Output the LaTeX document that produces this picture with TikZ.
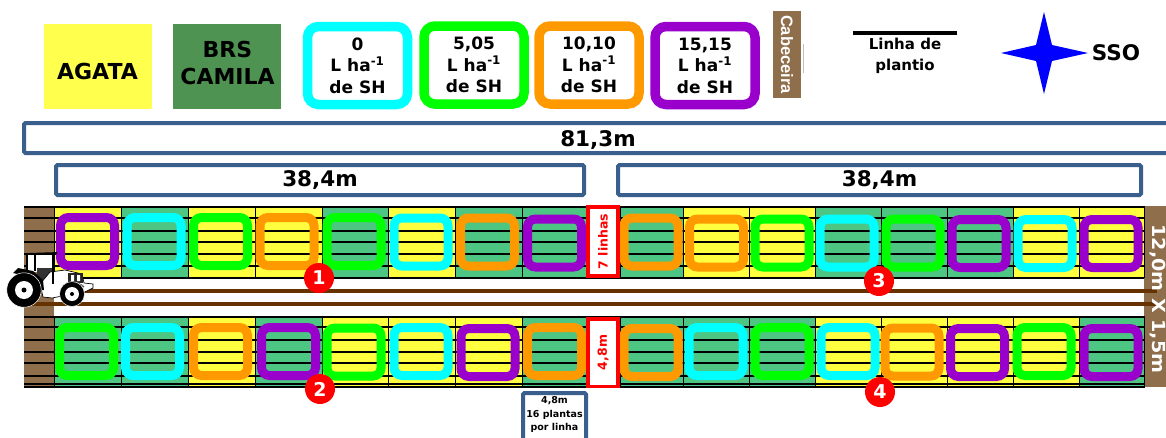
\documentclass[tikz,border=0pt]{standalone}
\usepackage{fontspec}
\setmainfont{DejaVu Sans}
\newfontfamily\cabfont{Liberation Sans}
\usepackage{xcolor}
\usetikzlibrary{arrows.meta,positioning,calc}

\definecolor{ccy}{HTML}{00FFFF}
\definecolor{cgr}{HTML}{00FF00}
\definecolor{cor}{HTML}{FF9900}
\definecolor{cpu}{HTML}{9900CC}
\definecolor{py}{HTML}{FFFF40}
\definecolor{pg}{HTML}{4DC683}
\definecolor{legy}{HTML}{FFFF4D}
\definecolor{legg}{HTML}{4F9353}
\definecolor{soil}{HTML}{8F6E4B}
\definecolor{track}{HTML}{663300}
\definecolor{steel}{HTML}{3B5F8D}

\begin{document}
\begin{tikzpicture}[
    x=1pt, y=-1pt,
    legendbox/.style={minimum width=108pt, minimum height=85pt, inner sep=0pt},
    legendtext/.style={align=center, inner sep=0pt, font=\fontsize{22}{27}\selectfont\bfseries},
    legendring/.style={draw, line width=9.5pt, rounded corners=11pt, minimum width=100pt,
                       minimum height=78pt, align=center, inner sep=0pt,
                       font=\fontsize{17}{21.5}\selectfont\bfseries},
    measure/.style={draw=steel, line width=4pt, rounded corners=1.5pt, anchor=north west, inner sep=0pt,
                    font=\fontsize{21.5}{25}\selectfont\bfseries},
    headland/.style={fill=soil, anchor=north west, inner sep=0pt},
    plotcell/.style={draw=black, line width=0.8pt, anchor=west, inner sep=0pt, minimum height=71pt},
    ring/.style={draw, line width=9pt, rounded corners=8pt, minimum width=54pt,
                 minimum height=48pt, inner sep=0pt},
    gapbox/.style={draw=red, fill=white, line width=3.5pt, minimum width=30pt, inner sep=0pt},
    gaptext/.style={rotate=90, text=red, font=\fontsize{12.5}{15}\selectfont\bfseries, inner sep=0pt},
    plantline/.style={draw=black, line width=1.5pt},
    trackline/.style={draw=track, line width=3.5pt},
    tag/.style={circle, fill=red, minimum size=30pt, inner sep=0pt, text=white,
                font=\fontsize{19}{22}\selectfont\bfseries},
    wheel/.style={circle, fill=black, draw=white, line width=0.5pt, inner sep=0pt},
    hub/.style={circle, fill=white, inner sep=0pt},
    axle/.style={circle, fill=black, inner sep=0pt}
]
    \clip (0,0) rectangle (1166,437);
    \fill[white] (0,0) rectangle (1166,437);

    % legenda
    \node[legendbox, fill=legy] (agata) at (98,66.5) {};
    \node[legendtext] (agatatext) at (97.5,71) {AGATA};
    \node[legendbox, fill=legg, right=21pt of agata] (camila) {};
    \node[legendtext] (camilatext) at (227.5,62.5) {BRS\\CAMILA};
    \node[legendring, draw=ccy] (leg0) at (357.5,65.5) {0\\L ha\textsuperscript{-1}\\de SH};
    \node[legendring, draw=cgr] (leg5) at (474,65) {5,05\\L ha\textsuperscript{-1}\\de SH};
    \node[legendring, draw=cor] (leg10) at (589,65) {10,10\\L ha\textsuperscript{-1}\\de SH};
    \node[legendring, draw=cpu] (leg15) at (705,65.5) {15,15\\L ha\textsuperscript{-1}\\de SH};
    \node[fill=soil, minimum width=28pt, minimum height=87pt, inner sep=0pt] (cab) at (787,54.5) {};
    \node[rotate=-90, text=white, font=\fontsize{16.5}{20}\cabfont\bfseries] (cabtext) at (cab.center) {Cabeceira};
    \draw[gray!50, line width=0.8pt] ($(cab.east)+(2.5,-11)$) coordinate (tick1) -- ++(0,29);
    \coordinate (lp1) at (853,33);
    \coordinate (lp2) at (957,33);
    \draw[black, line width=4pt] (lp1) -- (lp2);
    \node[align=center, inner sep=0pt, font=\fontsize{15}{21.5}\selectfont\bfseries] (lptext) at (905,56) {Linha de\\plantio};
    \fill[blue] (1001,53) -- (1036,45) -- (1044,12) -- (1052,45) -- (1088,53)
                -- (1052,61) -- (1044,94) -- (1036,61) -- cycle;
    \node[font=\fontsize{21.5}{24}\selectfont\bfseries, inner sep=0pt] (sso) at (1116,53) {SSO};

    % medidas
    \node[measure, minimum width=1180pt, minimum height=30pt] (total) at (22,121) {};
    \node[font=\fontsize{21.5}{25}\selectfont\bfseries, inner sep=0pt] (totaltext) at (598,140) {81,3m};
    \node[measure, minimum width=528pt, minimum height=30pt] (halfL) at (54,163) {38,4m};
    \node[measure, minimum width=523pt, minimum height=30pt] (halfR) at (616,163) {38,4m};

    % bordaduras
    \node[headland, minimum width=30pt, minimum height=181pt] (headL) at (24,206) {};
    \node[headland, minimum width=23pt, minimum height=181pt] (headR) at (1143.5,206) {};

    % parcelas
    \foreach \n/\xa/\xb/\fc in {1/54/121/py,2/121/188/pg,3/188/255/py,4/255/322/py,5/322/388/pg,6/388/455/py,7/455/522/pg,8/522/586/pg,
                                9/620/683/pg,10/683/749/py,11/749/815/py,12/815/881/pg,13/881/947/pg,14/947/1013/pg,15/1013/1079/py,16/1079/1143.5/py}
        \node[plotcell, fill=\fc, minimum width={(\xb-\xa)*1pt}] (t\n) at (\xa,242) {};
    \foreach \n/\xa/\xb/\fc in {1/54/121/pg,2/121/188/pg,3/188/255/py,4/255/322/pg,5/322/388/py,6/388/455/py,7/455/522/py,8/522/586/pg,
                                9/620/683/pg,10/683/749/pg,11/749/815/pg,12/815/881/py,13/881/947/py,14/947/1013/py,15/1013/1079/py,16/1079/1143.5/pg}
        \node[plotcell, fill=\fc, minimum width={(\xb-\xa)*1pt}] (b\n) at (\xa,351.5) {};

    % linhas de plantio
    \foreach \y in {218,231,242,254,266}
        \draw[plantline] (headL.west |- 0,\y) -- (headR.west |- 0,\y);
    \foreach \y in {327,340,352,363,376,384}
        \draw[plantline] (headL.west |- 0,\y) -- (headR.west |- 0,\y);
    \foreach \y in {206.5,278,316.5,387}
        \draw[black, line width=2pt] (headL.west |- 0,\y) -- (headR.west |- 0,\y);

    % carreadores
    \coordinate (trackA) at (headL.east |- 0,291);
    \coordinate (trackB) at (headL.west |- 0,304);
    \draw[trackline] (trackA) -- ++(1103,0);
    \draw[trackline] (trackB) -- ++(1133,0);

    % doses
    \foreach \n/\rx/\ry/\rc in {1/87.5/241.5/cpu,2/154/241.5/ccy,3/220.5/241.5/cgr,4/287/241.5/cor,5/354/241.5/cgr,6/421/242/ccy,7/487.5/242/cor,8/554.5/243/cpu,
                                9/651/242/cor,10/716.5/243/cor,11/782/243/cgr,12/847/243/ccy,13/913/243/cgr,14/979/243.5/cpu,15/1045/243.5/ccy,16/1111/243.5/cpu}
        \node[ring, draw=\rc] (rt\n) at (\rx,\ry) {};
    \foreach \n/\rx/\ry/\rc in {1/86.5/351.5/cgr,2/152.5/351.5/ccy,3/220.5/351.5/cor,4/288.5/351.5/cpu,5/354/352/cgr,6/421/351.5/ccy,7/488/352.5/cpu,8/554.5/351.5/cor,
                                9/651/352.5/cor,10/716/351.5/ccy,11/782/351.5/cgr,12/848/351.5/ccy,13/912/352/cor,14/977.5/352.5/cpu,15/1044/351.5/cgr,16/1111/352.5/cpu}
        \node[ring, draw=\rc] (rb\n) at (\rx,\ry) {};

    \node[gapbox, minimum height=69pt] (gapT) at (603,241.5) {};
    \node[gaptext] (gapTtext) at (gapT) {7 linhas};
    \node[gapbox, minimum height=67.5pt] (gapB) at (603,352.5) {};
    \node[gaptext] (gapBtext) at (gapB) {4,8m};

    \node[rotate=-90, xscale=1.06, anchor=base, text=white, font=\fontsize{18}{22}\selectfont\bfseries, inner sep=0pt] (size) at (1152.5,299) {12,0m X 1,5m};

    \node[tag] (n1) at (319,278) {1};
    \node[tag] (n2) at (320,389) {2};
    \node[tag] (n3) at (879,281) {3};
    \node[tag] (n4) at (880,392) {4};

    % parcela util
    \node[measure, fill=white, minimum width=63pt, minimum height=60pt] (util) at (521,391) {};
    \node[align=center, inner sep=0pt, font=\fontsize{9.5}{13.5}\selectfont\bfseries, anchor=north] (utiltext) at (554.5,396.5) {4,8m\\16 plantas\\por linha};

    % trator
    \fill[white] (27,255) rectangle (54,272);
    \fill[black!80] (37,268) rectangle (52,283);
    \fill[white, draw=black, line width=0.7pt] (50,272) -- (65,270) -- (82,274) -- (84,283) -- (93,284) -- (93,288) -- (85,292)
        -- (62,296) -- (52,298) -- (43,297) -- (40,284) -- cycle;
    \fill[black!85] (68,273) rectangle (83,283);
    \fill[white] (71,275) rectangle (74,281) (77,275) rectangle (80,281);
    \draw[black, line width=1.8pt] (26,254) -- (57,253);
    \draw[black, line width=1.2pt] (27,254) -- (27,270) (35,254) -- (35,271) (53,253) -- (53,284);
    \fill[black] (13,273) -- (18,268) -- (33,271) -- (43,280) -- (44,290) -- (38,290) -- (33,279) -- (22,275) -- cycle;
    \draw[black!60, line width=1.5pt] (62,288) .. controls (65,281) and (78,281) .. (84,287);
    \node[wheel, minimum size=34.5pt] (rear) at (24,290) {};
    \node[hub, minimum size=18pt] (rearhub) at (rear) {};
    \node[axle, minimum size=5pt] (reardot) at (rear) {};
    \node[wheel, minimum size=25pt] (front) at (72,294) {};
    \node[hub, minimum size=14pt] (fronthub) at (front) {};
    \node[axle, minimum size=4pt] (frontdot) at (front) {};
\end{tikzpicture}
\end{document}
